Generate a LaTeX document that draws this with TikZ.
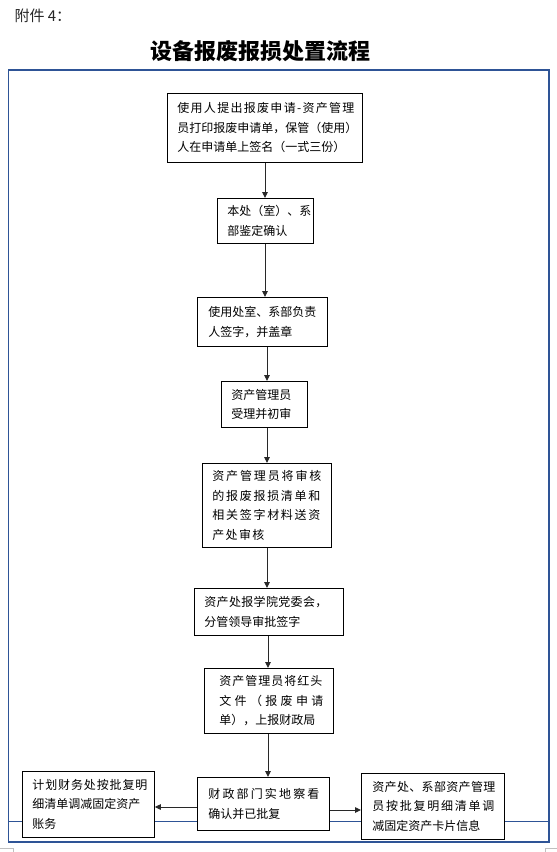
\documentclass[tikz,border=0pt]{standalone}
\usepackage{fontspec}
\usetikzlibrary{arrows.meta}
\newfontfamily\cjk{Noto Sans CJK SC}
\definecolor{frameblue}{RGB}{46,84,150}
\definecolor{linegray}{RGB}{40,40,40}
\makeatletter
\newcommand\jl[2]{\leavevmode\hbox to #1pt{\@tfor\rs@c:=#2\do{\rs@c\hfil}\unskip}}
\makeatother
\begin{document}
\begin{tikzpicture}[x=1pt,y=-1pt,
  box/.style={draw=black, fill=white, line width=0.8pt, anchor=north west,
    inner ysep=0pt, align=left, font=\cjk\fontsize{12}{19.5}\selectfont},
  arr/.style={draw=linegray, line width=0.9pt, -{Triangle[length=6pt,width=5.5pt]}}]
\useasboundingbox (0,0) rectangle (557,852);
% page corner marks
\draw[black!25, line width=0.6pt] (0,848) -- (13,848) -- (13,852);
\draw[black!25, line width=0.6pt] (557,848) -- (545,848) -- (545,852);
% header and title
\node[anchor=west, font=\cjk\fontsize{15}{18}\selectfont, text=black!85] (att) at (11,16) {附件 4：};
\node[font=\cjk\bfseries\fontsize{22}{26}\selectfont] (title) at (260,51) {设备报废报损处置流程};
% frame
\draw[frameblue, line width=1.2pt] (8.5,70) rectangle (549,842);
\draw[frameblue, line width=0.9pt] (8.5,821.5) -- (549,821.5);
% boxes
\node[box, minimum width=195pt, minimum height=69pt, text width=175pt, inner xsep=10pt] (b1) at (167,93)
  {\jl{177}{使用人提出报废申请-资产管理}\\员打印报废申请单，保管（使用）\\人在申请单上签名（一式三份）};
\node[box, minimum width=96pt, minimum height=45pt, text width=76pt, inner xsep=10pt] (b2) at (217,198)
  {本处（室）、系\\部鉴定确认};
\node[box, minimum width=130pt, minimum height=49pt, text width=108pt, inner xsep=11pt] (b3) at (197,297)
  {使用处室、系部负责\\人签字，并盖章};
\node[box, minimum width=86pt, minimum height=46pt, text width=66pt, inner xsep=10pt] (b4) at (221,381)
  {资产管理员\\受理并初审};
\node[box, minimum width=129pt, minimum height=84pt, text width=109pt, inner xsep=10pt] (b5) at (202,463)
  {\jl{109}{资产管理员将审核}\\\jl{108}{的报废报损清单和}\\\jl{108}{相关签字材料送资}\\\jl{52}{产处审核}};
\node[box, minimum width=149pt, minimum height=47pt, text width=129pt, inner xsep=10pt] (b6) at (194,588)
  {\jl{123}{资产处报学院党委会，}\\分管领导审批签字};
\node[box, minimum width=129pt, minimum height=65pt, text width=99pt, inner xsep=15pt] (b7) at (204,668)
  {\jl{103}{资产管理员将红头}\\\jl{104}{文件（报废申请}\\单），上报财政局};
\node[box, minimum width=132pt, minimum height=53pt, text width=110pt, inner xsep=11pt] (c) at (197,777)
  {\jl{111}{财政部门实地察看}\\确认并已批复};
\node[box, minimum width=132pt, minimum height=66pt, text width=112pt, inner xsep=10pt] (l) at (22,771)
  {\jl{115}{计划财务处按批复明}\\细清单调减固定资产\\账务};
\node[box, minimum width=143pt, minimum height=66pt, text width=121pt, inner xsep=11pt] (r) at (361,773)
  {\jl{123}{资产处、系部资产管理}\\\jl{122}{员按批复明细清单调}\\减固定资产卡片信息};
% connector guides
\coordinate (x1) at (265,0);
\coordinate (x2) at (267,0);
\coordinate (x3) at (268,0);
\coordinate (y1) at (0,807);
\coordinate (y2) at (0,810);
% connectors
\draw[arr] (b1.south -| x1) -- (b2.north -| x1);
\draw[arr] (b2.south -| x1) -- (b3.north -| x1);
\draw[arr] (b3.south -| x2) -- (b4.north -| x2);
\draw[arr] (b4.south -| x2) -- (b5.north -| x2);
\draw[arr] (b5.south -| x2) -- (b6.north -| x2);
\draw[arr] (b6.south -| x3) -- (b7.north -| x3);
\draw[arr] (b7.south -| x3) -- (c.north -| x3);
\draw[arr] (c.west |- y1) -- (l.east |- y1);
\draw[arr] (c.east |- y2) -- (r.west |- y2);
\end{tikzpicture}
\end{document}
